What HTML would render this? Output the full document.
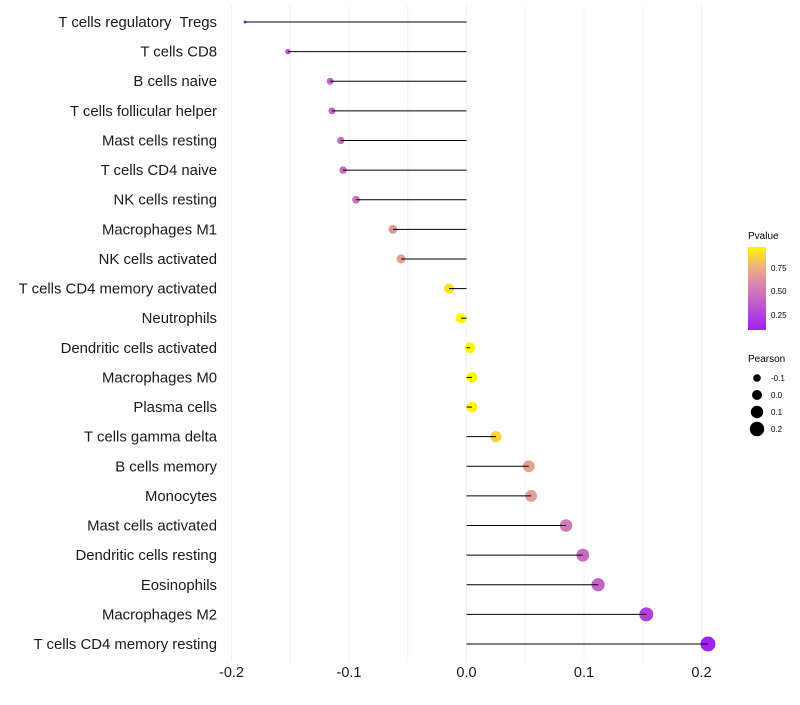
<!DOCTYPE html>
<html><head><meta charset="utf-8"><style>
body{margin:0;background:#fff;font-family:"Liberation Sans",sans-serif}
text{white-space:pre}
</style></head><body>
<svg id="c" width="800" height="700" xmlns="http://www.w3.org/2000/svg">
<defs><linearGradient id="pg" x1="0" y1="1" x2="0" y2="0">
<stop offset="0" stop-color="#A020F0"/><stop offset="0.48" stop-color="#D07BB8"/><stop offset="0.76" stop-color="#EFAE82"/><stop offset="1" stop-color="#FFF700"/></linearGradient></defs>
<g id="grid"></g><g id="marks"></g><g id="ylab"></g><g id="xlab"></g>
<g>
<text x="748" y="239" font-size="10" fill="#000">Pvalue</text>
<rect x="748" y="247" width="18" height="83" fill="url(#pg)"/>
<text x="771" y="271" font-size="8">0.75</text>
<text x="771" y="294" font-size="8">0.50</text>
<text x="771" y="318" font-size="8">0.25</text>
</g>
<g>
<text x="748" y="362" font-size="10" fill="#000">Pearson</text>
<circle cx="757" cy="378" r="3.8"/><text x="771" y="381" font-size="8">-0.1</text>
<circle cx="757" cy="395" r="5"/><text x="771" y="398" font-size="8">0.0</text>
<circle cx="757" cy="412" r="6.2"/><text x="771" y="415" font-size="8">0.1</text>
<circle cx="757" cy="429" r="7.2"/><text x="771" y="432" font-size="8">0.2</text>
</g>
</svg>
<script>
const categories=["T cells regulatory  Tregs","T cells CD8","B cells naive","T cells follicular helper","Mast cells resting","T cells CD4 naive","NK cells resting","Macrophages M1","NK cells activated","T cells CD4 memory activated","Neutrophils","Dendritic cells activated","Macrophages M0","Plasma cells","T cells gamma delta","B cells memory","Monocytes","Mast cells activated","Dendritic cells resting","Eosinophils","Macrophages M2","T cells CD4 memory resting"];
const pearson=[-0.1885,-0.152,-0.116,-0.1145,-0.107,-0.105,-0.094,-0.0626,-0.0557,-0.0149,-0.0047,0.003,0.0047,0.0047,0.025,0.053,0.055,0.0847,0.099,0.112,0.153,0.2055];
const pvalue=[0.12,0.32,0.4,0.4,0.42,0.42,0.46,0.64,0.68,0.9,0.97,1.0,0.98,0.98,0.86,0.68,0.67,0.5,0.42,0.38,0.22,0.08];
const xTicks=[-0.2,-0.1,0.0,0.1,0.2];
const xTickLabels=["-0.2","-0.1","0.0","0.1","0.2"];
const NS="http://www.w3.org/2000/svg";
const x=v=>466.5+v*1175;
const y=i=>22+i*(622/(categories.length-1));
const rad=v=>Math.sqrt(Math.max(1,28+136*v));
const stops=[[0.07,[160,32,240]],[0.5,[208,123,184]],[0.75,[239,174,130]],[0.96,[255,247,0]]];
function col(p){if(p<=stops[0][0])return 'rgb('+stops[0][1]+')';for(let k=1;k<stops.length;k++){if(p<=stops[k][0]){const t=(p-stops[k-1][0])/(stops[k][0]-stops[k-1][0]);const a=stops[k-1][1],b=stops[k][1];return 'rgb('+a.map((c,j)=>Math.round(c+(b[j]-c)*t)).join(',')+')';}}return 'rgb('+stops[3][1]+')';}
function mk(t,at,par){const e=document.createElementNS(NS,t);for(const k in at)e.setAttribute(k,at[k]);document.getElementById(par).appendChild(e);return e;}
for(let v=-0.2;v<=0.2001;v+=0.05){const g=mk('line',{x1:x(v),x2:x(v),y1:5,y2:662,stroke:'#f0f0f0','stroke-width':1},'grid');

}
categories.forEach((c,i)=>{
const d=mk('circle',{cx:x(pearson[i]),cy:y(i),r:rad(pearson[i]),fill:col(pvalue[i])},'marks');


const l=mk('line',{x1:x(0),x2:x(pearson[i]),y1:y(i),y2:y(i),stroke:'#000','stroke-width':1},'marks');


const t=mk('text',{x:217,y:y(i)+5,'text-anchor':'end','font-size':14.9,fill:'#1a1a1a'},'ylab');t.textContent=c;


});
xTicks.forEach((v,i)=>{const t=mk('text',{x:x(v),y:677,'text-anchor':'middle','font-size':14.5,fill:'#1a1a1a'},'xlab');t.textContent=xTickLabels[i];

});
</script>
</body></html>
